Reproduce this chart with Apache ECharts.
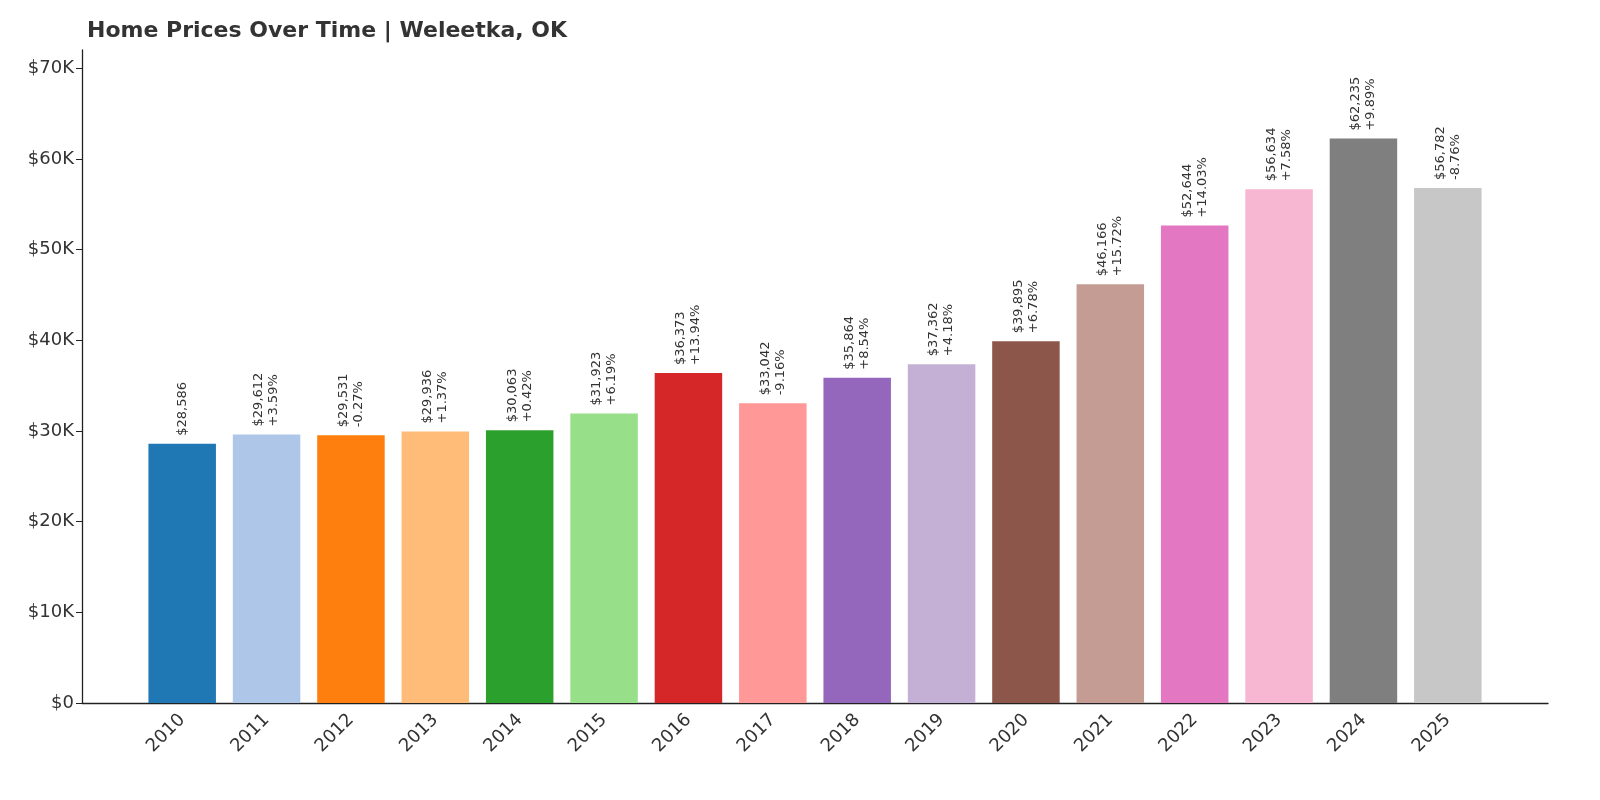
<!DOCTYPE html>
<html><head><meta charset="utf-8">
<script src="https://cdn.jsdelivr.net/npm/echarts@6/dist/echarts.min.js"></script>
<style>html,body{margin:0;background:#fff}#c{width:1600px;height:800px}</style>
</head><body><div id="c"></div>
<script>
const years = ['2010','2011','2012','2013','2014','2015','2016','2017','2018','2019','2020','2021','2022','2023','2024','2025'];
const prices = [28586,29612,29531,29936,30063,31923,36373,33042,35864,37362,39895,46166,52644,56634,62235,56782];
const changes = [null,'+3.59%','-0.27%','+1.37%','+0.42%','+6.19%','+13.94%','-9.16%','+8.54%','+4.18%','+6.78%','+15.72%','+14.03%','+7.58%','+9.89%','-8.76%'];
const colors = ['#1f77b4','#aec7e8','#ff7f0e','#ffbb78','#2ca02c','#98df8a','#d62728','#ff9896','#9467bd','#c5b0d5','#8c564b','#c49c94','#e377c2','#f7b6d2','#7f7f7f','#c7c7c7'];
const fmt = v => '$' + v.toLocaleString('en-US');
const chart = echarts.init(document.getElementById('c'));
chart.setOption({
  animation:false,
  title:{text:'Home Prices Over Time | Weleetka, OK',left:82,top:15,textStyle:{fontFamily:'DejaVu Sans',fontSize:22,fontWeight:'bold',color:'#333'}},
  grid:[{left:140,right:110,top:50,bottom:97},{left:82,right:52,top:50,bottom:97}],
  xAxis:[{type:'category',data:years,gridIndex:0,
    axisLine:{show:false},axisTick:{alignWithLabel:true,length:6,lineStyle:{color:'#222'}},
    axisLabel:{rotate:45,fontSize:18,color:'#333',fontFamily:'DejaVu Sans',margin:14}},
    {type:'category',data:[''],gridIndex:1,axisTick:{show:false},axisLabel:{show:false},
    axisLine:{lineStyle:{color:'#222',width:1.3}}}],
  yAxis:[{type:'value',min:0,max:72000,interval:10000,splitLine:{show:false},offset:58,gridIndex:0,
    axisLine:{show:true,lineStyle:{color:'#222',width:1.3}},axisTick:{show:true,length:6,lineStyle:{color:'#222'}},
    axisLabel:{showMaxLabel:false,fontSize:18,color:'#333',fontFamily:'DejaVu Sans',formatter:v=>'$'+(v/1000)+(v?'K':'')}},
    {type:'value',gridIndex:1,show:false}],
  series:[{type:'bar',barCategoryGap:'20%',
    data:prices.map((v,i)=>({value:v,itemStyle:{color:colors[i]}})),
    label:{show:true,position:'top',rotate:90,align:'left',verticalAlign:'middle',distance:8,
      fontSize:13,color:'#333',fontFamily:'DejaVu Sans',lineHeight:15,
      formatter:p=>changes[p.dataIndex]?fmt(p.value)+'\n'+changes[p.dataIndex]:fmt(p.value)}}]
});
</script></body></html>
